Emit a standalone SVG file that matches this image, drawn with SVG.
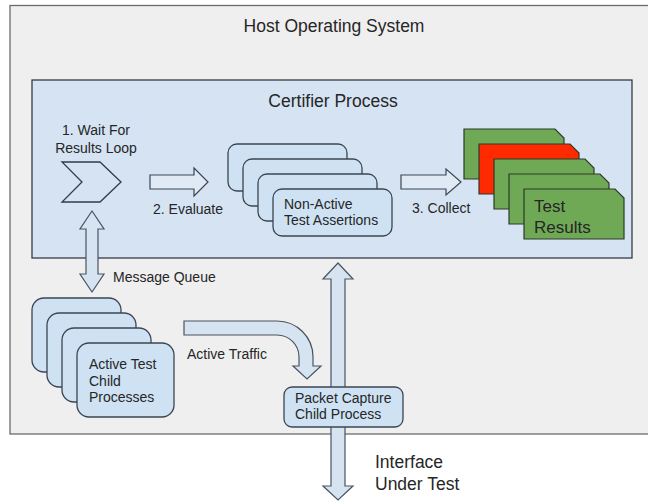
<svg xmlns="http://www.w3.org/2000/svg" width="648" height="501" viewBox="0 0 648 501">
  <style>
    text { font-family: "Liberation Sans", Arial, sans-serif; fill: #262626; }
    .t14 { font-size: 14px; }
    .t17 { font-size: 17.5px; }
    .proc { fill: #cfe2f3; stroke: #3b4652; stroke-width: 1.3; }
    .arrow { fill: #d6e4f2; stroke: #4a5460; stroke-width: 1.2; stroke-linejoin: miter; }
    .flow { fill: #dfeaf5; stroke: #3b4652; stroke-width: 1.2; }
    .card { stroke: #2e3a28; stroke-width: 1.2; }
    .green { fill: #6fa956; }
    .red { fill: #ff2a00; }
  </style>
  <rect width="648" height="501" fill="#ffffff"/>

  <!-- host operating system container -->
  <g id="host-os">
    <rect x="10" y="5.5" width="660" height="428.5" fill="#efefef" stroke="#6c6c6c" stroke-width="1.3"/>
    <text class="t17" x="334" y="32" text-anchor="middle">Host Operating System</text>
  </g>

  <!-- certifier process container -->
  <g id="certifier-process">
    <rect x="32" y="80" width="600" height="178" fill="#d5e3f2" stroke="#333c46" stroke-width="1.3"/>
    <text class="t17" x="333" y="107" text-anchor="middle">Certifier Process</text>
  </g>

  <!-- connectors -->
  <g id="connectors">
    <!-- 2. Evaluate -->
    <path class="flow" d="M150,175 H194 V168 L208,182 L194,196 V189 H150 Z"/>
    <!-- 3. Collect -->
    <path class="flow" d="M401,175 H446 V169 L461,182 L446,195 V189 H401 Z"/>
    <!-- message queue (bidirectional) -->
    <path class="arrow" d="M92,211 L104,229 H98 V274 H104 L92,292 L80,274 H86 V229 H80 Z"/>
    <!-- active traffic (curved) -->
    <path class="arrow" d="M184,321 H277 A36,36 0 0 1 313,357 V366 H321 L307,379 L293,366 H299 V357 A22,22 0 0 0 277,335 H184 Z"/>
    <!-- interface under test (bidirectional) -->
    <path class="arrow" d="M338,263 L353,279 H345 V486 H353 L338,500 L323,486 H331 V279 H323 Z"/>
    <text class="t14" x="153" y="214">2. Evaluate</text>
    <text class="t14" x="412" y="213">3. Collect</text>
    <text class="t14" x="113" y="282">Message Queue</text>
    <text class="t14" x="187" y="359">Active Traffic</text>
    <text class="t17" x="375" y="468">Interface</text>
    <text class="t17" x="375" y="490">Under Test</text>
  </g>

  <!-- wait-for-results loop -->
  <g id="wait-loop">
    <path d="M62,162 H100 L121,182 L100,202 H62 L82,182 Z" fill="#d5e3f2" stroke="#333c46" stroke-width="1.3"/>
    <text class="t14" x="96" y="135" text-anchor="middle">1. Wait For</text>
    <text class="t14" x="96" y="153" text-anchor="middle">Results Loop</text>
  </g>

  <!-- non-active test assertions stack -->
  <g id="non-active-assertions">
    <rect class="proc" x="228" y="144" width="119" height="47" rx="9"/>
    <rect class="proc" x="243" y="159" width="119" height="47" rx="9"/>
    <rect class="proc" x="258" y="174" width="119" height="47" rx="9"/>
    <rect class="proc" x="273" y="189" width="119" height="47" rx="9"/>
    <text class="t14" x="284" y="209">Non-Active</text>
    <text class="t14" x="284" y="225">Test Assertions</text>
  </g>

  <!-- test results stack -->
  <g id="test-results">
    <path class="card green" d="M464,129 H555 L564,138 V179 H464 Z"/>
    <path class="card red" d="M479,144 H570 L579,153 V194 H479 Z"/>
    <path class="card green" d="M494,159 H585 L594,168 V209 H494 Z"/>
    <path class="card green" d="M509,174 H600 L609,183 V224 H509 Z"/>
    <path class="card green" d="M524,189 H615 L624,198 V239 H524 Z"/>
    <text class="t17" x="534" y="212" style="font-size:17px">Test</text>
    <text class="t17" x="534" y="233" style="font-size:17px">Results</text>
  </g>

  <!-- active test child processes stack -->
  <g id="active-test-children">
    <rect class="proc" x="32" y="298" width="89" height="74" rx="12"/>
    <rect class="proc" x="47" y="313" width="89" height="74" rx="12"/>
    <rect class="proc" x="62" y="328" width="89" height="74" rx="12"/>
    <rect class="proc" x="77" y="343" width="97" height="74" rx="12"/>
    <text class="t14" x="89" y="369">Active Test</text>
    <text class="t14" x="89" y="386">Child</text>
    <text class="t14" x="89" y="402">Processes</text>
  </g>

  <!-- packet capture child process -->
  <g id="packet-capture">
    <rect class="proc" x="284" y="387" width="119" height="40" rx="8"/>
    <text class="t14" x="295" y="403">Packet Capture</text>
    <text class="t14" x="295" y="419">Child Process</text>
  </g>
</svg>
